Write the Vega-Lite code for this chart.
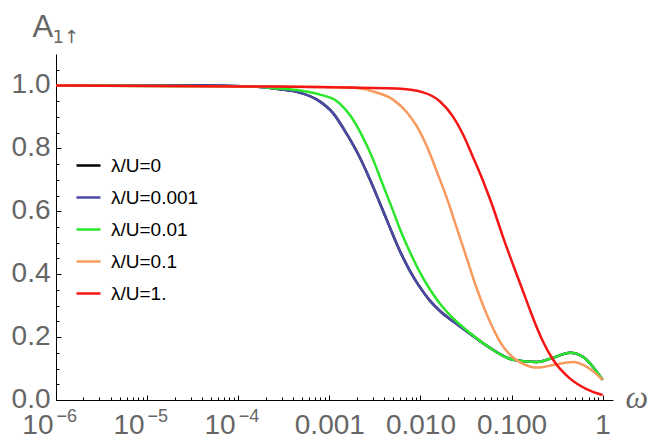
{
  "$schema": "https://vega.github.io/schema/vega-lite/v6.json",
  "width": 557,
  "height": 346,
  "autosize": {"type": "none"},
  "padding": {"left": 56, "top": 54, "right": 38, "bottom": 42},
  "background": "white",
  "config": {"view": {"stroke": null}},
  "datasets": {
    "curves": [
      {"s": "λ/U=0", "w": 1e-6, "A": 1.0}, {"s": "λ/U=0", "w": 3.81e-5, "A": 1.0}, {"s": "λ/U=0", "w": 1.35e-4, "A": 0.997}, {"s": "λ/U=0", "w": 2.88e-4, "A": 0.988}, {"s": "λ/U=0", "w": 4.76e-4, "A": 0.977}, {"s": "λ/U=0", "w": 7.33e-4, "A": 0.955}, {"s": "λ/U=0", "w": 1.10e-3, "A": 0.912}, {"s": "λ/U=0", "w": 1.56e-3, "A": 0.845}, {"s": "λ/U=0", "w": 2.17e-3, "A": 0.770}, {"s": "λ/U=0", "w": 2.80e-3, "A": 0.700}, {"s": "λ/U=0", "w": 3.60e-3, "A": 0.625}, {"s": "λ/U=0", "w": 4.63e-3, "A": 0.548}, {"s": "λ/U=0", "w": 5.97e-3, "A": 0.473}, {"s": "λ/U=0", "w": 7.69e-3, "A": 0.410}, {"s": "λ/U=0", "w": 9.91e-3, "A": 0.358}, {"s": "λ/U=0", "w": 0.0127, "A": 0.316}, {"s": "λ/U=0", "w": 0.0164, "A": 0.283}, {"s": "λ/U=0", "w": 0.0228, "A": 0.250}, {"s": "λ/U=0", "w": 0.0350, "A": 0.211}, {"s": "λ/U=0", "w": 0.0538, "A": 0.172}, {"s": "λ/U=0", "w": 0.104, "A": 0.128}, {"s": "λ/U=0", "w": 0.191, "A": 0.121}, {"s": "λ/U=0", "w": 0.286, "A": 0.134}, {"s": "λ/U=0", "w": 0.439, "A": 0.150}, {"s": "λ/U=0", "w": 0.610, "A": 0.137}, {"s": "λ/U=0", "w": 0.785, "A": 0.105}, {"s": "λ/U=0", "w": 1.0, "A": 0.064},

      {"s": "λ/U=0.001", "w": 1e-6, "A": 1.0}, {"s": "λ/U=0.001", "w": 3.81e-5, "A": 1.0}, {"s": "λ/U=0.001", "w": 1.35e-4, "A": 0.997}, {"s": "λ/U=0.001", "w": 2.88e-4, "A": 0.988}, {"s": "λ/U=0.001", "w": 4.76e-4, "A": 0.977}, {"s": "λ/U=0.001", "w": 7.33e-4, "A": 0.955}, {"s": "λ/U=0.001", "w": 1.10e-3, "A": 0.912}, {"s": "λ/U=0.001", "w": 1.56e-3, "A": 0.845}, {"s": "λ/U=0.001", "w": 2.17e-3, "A": 0.770}, {"s": "λ/U=0.001", "w": 2.80e-3, "A": 0.700}, {"s": "λ/U=0.001", "w": 3.60e-3, "A": 0.625}, {"s": "λ/U=0.001", "w": 4.63e-3, "A": 0.548}, {"s": "λ/U=0.001", "w": 5.97e-3, "A": 0.473}, {"s": "λ/U=0.001", "w": 7.69e-3, "A": 0.410}, {"s": "λ/U=0.001", "w": 9.91e-3, "A": 0.358}, {"s": "λ/U=0.001", "w": 0.0127, "A": 0.316}, {"s": "λ/U=0.001", "w": 0.0164, "A": 0.283}, {"s": "λ/U=0.001", "w": 0.0228, "A": 0.250}, {"s": "λ/U=0.001", "w": 0.0350, "A": 0.211}, {"s": "λ/U=0.001", "w": 0.0538, "A": 0.172}, {"s": "λ/U=0.001", "w": 0.104, "A": 0.128}, {"s": "λ/U=0.001", "w": 0.191, "A": 0.121}, {"s": "λ/U=0.001", "w": 0.286, "A": 0.134}, {"s": "λ/U=0.001", "w": 0.439, "A": 0.150}, {"s": "λ/U=0.001", "w": 0.610, "A": 0.137}, {"s": "λ/U=0.001", "w": 0.785, "A": 0.105}, {"s": "λ/U=0.001", "w": 1.0, "A": 0.064},

      {"s": "λ/U=0.01", "w": 1e-6, "A": 1.0}, {"s": "λ/U=0.01", "w": 1.35e-4, "A": 0.997}, {"s": "λ/U=0.01", "w": 2.88e-4, "A": 0.990}, {"s": "λ/U=0.01", "w": 4.76e-4, "A": 0.984}, {"s": "λ/U=0.01", "w": 7.91e-4, "A": 0.971}, {"s": "λ/U=0.01", "w": 1.21e-3, "A": 0.950}, {"s": "λ/U=0.01", "w": 1.69e-3, "A": 0.905}, {"s": "λ/U=0.01", "w": 2.34e-3, "A": 0.835}, {"s": "λ/U=0.01", "w": 3.02e-3, "A": 0.765}, {"s": "λ/U=0.01", "w": 3.78e-3, "A": 0.692}, {"s": "λ/U=0.01", "w": 4.88e-3, "A": 0.610}, {"s": "λ/U=0.01", "w": 5.97e-3, "A": 0.543}, {"s": "λ/U=0.01", "w": 7.69e-3, "A": 0.470}, {"s": "λ/U=0.01", "w": 9.91e-3, "A": 0.405}, {"s": "λ/U=0.01", "w": 0.0127, "A": 0.352}, {"s": "λ/U=0.01", "w": 0.0164, "A": 0.306}, {"s": "λ/U=0.01", "w": 0.0228, "A": 0.260}, {"s": "λ/U=0.01", "w": 0.0350, "A": 0.213}, {"s": "λ/U=0.01", "w": 0.0538, "A": 0.172}, {"s": "λ/U=0.01", "w": 0.104, "A": 0.128}, {"s": "λ/U=0.01", "w": 0.191, "A": 0.121}, {"s": "λ/U=0.01", "w": 0.286, "A": 0.134}, {"s": "λ/U=0.01", "w": 0.439, "A": 0.150}, {"s": "λ/U=0.01", "w": 0.610, "A": 0.137}, {"s": "λ/U=0.01", "w": 0.785, "A": 0.105}, {"s": "λ/U=0.01", "w": 1.0, "A": 0.064},

      {"s": "λ/U=0.1", "w": 1e-6, "A": 1.0}, {"s": "λ/U=0.1", "w": 1.35e-4, "A": 0.997}, {"s": "λ/U=0.1", "w": 1.56e-3, "A": 0.994}, {"s": "λ/U=0.1", "w": 3.02e-3, "A": 0.981}, {"s": "λ/U=0.1", "w": 5.00e-3, "A": 0.955}, {"s": "λ/U=0.1", "w": 7.13e-3, "A": 0.914}, {"s": "λ/U=0.1", "w": 9.18e-3, "A": 0.869}, {"s": "λ/U=0.1", "w": 0.0118, "A": 0.806}, {"s": "λ/U=0.1", "w": 0.0152, "A": 0.725}, {"s": "λ/U=0.1", "w": 0.0196, "A": 0.640}, {"s": "λ/U=0.1", "w": 0.0252, "A": 0.545}, {"s": "λ/U=0.1", "w": 0.0325, "A": 0.448}, {"s": "λ/U=0.1", "w": 0.0418, "A": 0.352}, {"s": "λ/U=0.1", "w": 0.0538, "A": 0.270}, {"s": "λ/U=0.1", "w": 0.0659, "A": 0.215}, {"s": "λ/U=0.1", "w": 0.0748, "A": 0.185}, {"s": "λ/U=0.1", "w": 0.104, "A": 0.135}, {"s": "λ/U=0.1", "w": 0.134, "A": 0.115}, {"s": "λ/U=0.1", "w": 0.191, "A": 0.103}, {"s": "λ/U=0.1", "w": 0.286, "A": 0.111}, {"s": "λ/U=0.1", "w": 0.473, "A": 0.121}, {"s": "λ/U=0.1", "w": 0.675, "A": 0.105}, {"s": "λ/U=0.1", "w": 1.0, "A": 0.064},

      {"s": "λ/U=1.", "w": 1e-6, "A": 1.0}, {"s": "λ/U=1.", "w": 1.35e-4, "A": 0.997}, {"s": "λ/U=1.", "w": 5.53e-3, "A": 0.990}, {"s": "λ/U=1.", "w": 0.0107, "A": 0.978}, {"s": "λ/U=1.", "w": 0.0164, "A": 0.949}, {"s": "λ/U=1.", "w": 0.0228, "A": 0.901}, {"s": "λ/U=1.", "w": 0.0294, "A": 0.844}, {"s": "λ/U=1.", "w": 0.0378, "A": 0.772}, {"s": "λ/U=1.", "w": 0.0486, "A": 0.697}, {"s": "λ/U=1.", "w": 0.0627, "A": 0.612}, {"s": "λ/U=1.", "w": 0.0807, "A": 0.518}, {"s": "λ/U=1.", "w": 0.104, "A": 0.430}, {"s": "λ/U=1.", "w": 0.134, "A": 0.345}, {"s": "λ/U=1.", "w": 0.160, "A": 0.285}, {"s": "λ/U=1.", "w": 0.191, "A": 0.228}, {"s": "λ/U=1.", "w": 0.222, "A": 0.185}, {"s": "λ/U=1.", "w": 0.286, "A": 0.128}, {"s": "λ/U=1.", "w": 0.439, "A": 0.068}, {"s": "λ/U=1.", "w": 0.675, "A": 0.034}, {"s": "λ/U=1.", "w": 1.0, "A": 0.016}
    ]
  },
  "data": {"name": "curves"},
  "resolve": {"axis": {"x": "independent", "y": "independent"}},
  "layer": [
    {
      "mark": {"type": "line", "strokeWidth": 2.5, "interpolate": "monotone"},
      "encoding": {
        "x": {
          "field": "w", "type": "quantitative",
          "scale": {"type": "log", "domain": [1e-6, 1.3], "nice": false},
          "axis": {
            "orient": "bottom",
            "values": [1e-6, 1e-5, 1e-4, 0.001, 0.01, 0.1, 1],
            "labelExpr": "datum.value < 0.0005 ? '10' : (datum.value > 0.5 ? '1' : format(datum.value, '.3f'))",
            "labelAlign": {"condition": {"test": "datum.value < 0.0005", "value": "right"}, "value": "center"},
            "labelOffset": {"condition": {"test": "datum.value < 0.0005", "value": -3}, "value": 0},
            "labelFont": "Liberation Sans", "labelFontSize": 28, "labelColor": "#666666",
            "labelPadding": 16, "labelBaseline": "top", "labelFlush": false, "labelOverlap": false, "labelBound": false,
            "tickSize": -5, "tickColor": "black", "tickWidth": 1,
            "domainColor": "black", "domainWidth": 1, "grid": false,
            "title": "ω", "titleFont": "Liberation Serif", "titleFontStyle": "italic", "titleFontWeight": "normal",
            "titleFontSize": 32, "titleColor": "#666666", "titleAlign": "left", "titleBaseline": "alphabetic",
            "titleAnchor": null, "titleAngle": 0, "titleX": 569, "titleY": 7
          }
        },
        "y": {
          "field": "A", "type": "quantitative",
          "scale": {"domain": [0, 1.1], "nice": false, "zero": false},
          "axis": {
            "orient": "left",
            "values": [0, 0.2, 0.4, 0.6, 0.8, 1.0],
            "labelExpr": "format(datum.value, '.1f')",
            "labelFont": "Liberation Sans", "labelFontSize": 28, "labelColor": "#666666",
            "labelPadding": 11, "labelBaseline": "middle", "labelOffset": -1, "labelFlush": false, "labelOverlap": false, "labelBound": false,
            "tickSize": -5, "tickColor": "black", "tickWidth": 1,
            "domainColor": "black", "domainWidth": 1, "grid": false,
            "title": "A", "titleFont": "Liberation Sans", "titleFontWeight": "normal", "titleFontSize": 31,
            "titleColor": "#666666", "titleAngle": 0, "titleAlign": "left", "titleBaseline": "alphabetic",
            "titleAnchor": null, "titleX": -24, "titleY": -18
          }
        },
        "color": {
          "field": "s", "type": "nominal",
          "scale": {
            "domain": ["λ/U=0", "λ/U=0.001", "λ/U=0.01", "λ/U=0.1", "λ/U=1."],
            "range": ["#000000", "#4b4ba6", "#2be62b", "#f89a5e", "#f41515"]
          },
          "legend": {
            "orient": "none", "legendX": 19, "legendY": 98, "title": null, "padding": 0,
            "symbolType": "stroke", "symbolSize": 576, "symbolStrokeWidth": 2.5,
            "labelFont": "Liberation Sans", "labelFontSize": 19, "labelColor": "black",
            "labelOffset": 9, "rowPadding": 8
          }
        }
      }
    },
    {
      "mark": {"type": "point", "opacity": 0},
      "encoding": {
        "x": {
          "field": "w", "type": "quantitative",
          "scale": {"type": "log", "domain": [1e-6, 1.3], "nice": false},
          "axis": {
            "orient": "bottom",
            "values": [2e-6, 3e-6, 4e-6, 5e-6, 6e-6, 7e-6, 8e-6, 9e-6, 2e-5, 3e-5, 4e-5, 5e-5, 6e-5, 7e-5, 8e-5, 9e-5, 2e-4, 3e-4, 4e-4, 5e-4, 6e-4, 7e-4, 8e-4, 9e-4, 0.002, 0.003, 0.004, 0.005, 0.006, 0.007, 0.008, 0.009, 0.02, 0.03, 0.04, 0.05, 0.06, 0.07, 0.08, 0.09, 0.2, 0.3, 0.4, 0.5, 0.6, 0.7, 0.8, 0.9],
            "labels": false, "domain": false, "grid": false,
            "tickSize": -3, "tickColor": "black", "tickWidth": 1, "title": null
          }
        },
        "y": {
          "field": "A", "type": "quantitative",
          "scale": {"domain": [0, 1.1], "nice": false, "zero": false},
          "axis": {
            "orient": "left",
            "values": [0.05, 0.1, 0.15, 0.25, 0.3, 0.35, 0.45, 0.5, 0.55, 0.65, 0.7, 0.75, 0.85, 0.9, 0.95, 1.05],
            "labels": false, "domain": false, "grid": false,
            "tickSize": -3, "tickColor": "black", "tickWidth": 1,
            "title": "1↑", "titleFont": "DejaVu Sans", "titleFontWeight": "normal", "titleFontSize": 18,
            "titleColor": "#666666", "titleAngle": 0, "titleAlign": "left", "titleBaseline": "alphabetic",
            "titleAnchor": null, "titleX": -4, "titleY": -12
          }
        }
      }
    },
    {
      "mark": {"type": "point", "opacity": 0},
      "encoding": {
        "x": {
          "field": "w", "type": "quantitative",
          "scale": {"type": "log", "domain": [1e-6, 1.3], "nice": false},
          "axis": {
            "orient": "bottom",
            "values": [1e-6, 1e-5, 1e-4],
            "labelExpr": "datum.value < 0.000005 ? '−6' : (datum.value < 0.00005 ? '−5' : '−4')",
            "labelAlign": "left", "labelFont": "Liberation Sans", "labelFontSize": 18, "labelColor": "#666666",
            "labelPadding": 7, "labelBaseline": "top", "labelFlush": false, "labelOverlap": false, "labelBound": false,
            "ticks": false, "domain": false, "grid": false, "title": null
          }
        },
        "y": {
          "field": "A", "type": "quantitative",
          "scale": {"domain": [0, 1.1], "nice": false, "zero": false},
          "axis": null
        }
      }
    }
  ]
}
